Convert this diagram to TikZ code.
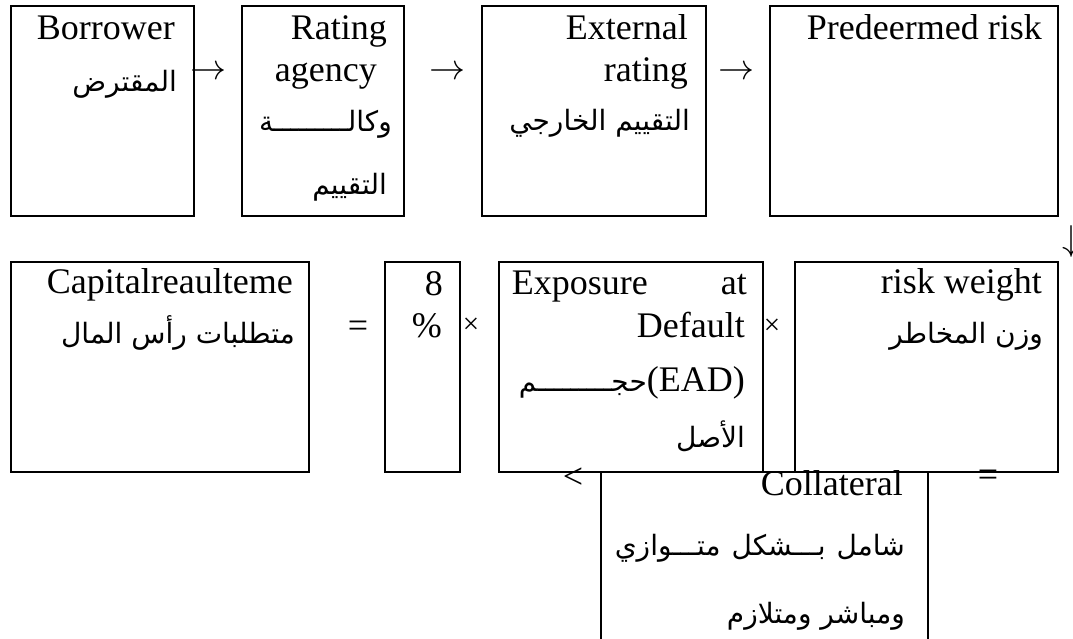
\documentclass[tikz,border=0pt]{standalone}
\usepackage{fix-cm}
\usepackage{fontspec}
\setmainfont{Liberation Serif}
\newfontfamily\arabicfont[Script=Arabic]{DejaVu Sans}
\TeXXeTstate=1
\begin{document}
\begin{tikzpicture}[x=1pt,y=-1pt,
  box/.style={draw,line width=1.8pt,inner sep=0pt,anchor=north west},
  en/.style={inner sep=0pt,anchor=base east,font=\fontsize{36}{40}\selectfont},
  ar/.style={inner sep=0pt,anchor=base east,font=\fontsize{28}{32}\arabicfont},
  sym/.style={inner sep=0pt,font=\fontsize{36}{40}\selectfont},
  smallsym/.style={inner sep=0pt,font=\fontsize{29}{32}\selectfont},
  arr/.style={inner sep=0pt,font=\fontsize{36}{40}\selectfont}]
\useasboundingbox (0,0) rectangle (1073,639);
\clip (0,0) rectangle (1073,639);
% row 1 boxes
\node[box,minimum width=183pt,minimum height=210pt] (borrower) at (10,5) {};
\node[box,minimum width=162pt,minimum height=210pt] (agency) at (241,5) {};
\node[box,minimum width=224pt,minimum height=210pt] (external) at (481,5) {};
\node[box,minimum width=288pt,minimum height=210pt] (predet) at (769,5) {};
% row 2 boxes
\node[box,minimum width=298pt,minimum height=210pt] (capital) at (10,261) {};
\node[box,minimum width=75pt,minimum height=210pt] (eight) at (384,261) {};
\node[box,minimum width=264pt,minimum height=210pt] (ead) at (498,261) {};
\node[box,minimum width=263pt,minimum height=210pt] (weight) at (794,261) {};
% row 3 box
\node[box,minimum width=327pt,minimum height=250pt] (collateral) at (600,471) {};
% texts row 1
\node[en] (t1a) at (175,40) {Borrower};
\node[ar] (t1b) at (177,92) {\beginR المقترض\endR};
\node[en] (t2a) at (387,40) {Rating};
\node[en] (t2b) at (377,82) {agency};
\node[ar] (t2c) at (392,132) {\beginR وكالـــــــــة\endR};
\node[ar] (t2d) at (387,195) {\beginR التقييم\endR};
\node[en] (t3a) at (688,40) {External};
\node[en] (t3b) at (688,82) {rating};
\node[ar] (t3c) at (690,131) {\beginR التقييم الخارجي\endR};
\node[en] (t4a) at (1042,40) {Predeermed risk};
% texts row 2
\node[en] (t5a) at (293,293) {Capitalreaulteme};
\node[ar] (t5b) at (295,343) {\beginR متطلبات رأس المال\endR};
\node[en] (t6a) at (443,295) {8};
\node[en] (t6b) at (442,337) {\%};
\node[en] (t7a) at (747,294) {\makebox[235pt][s]{Exposure at}};
\node[en] (t7b) at (745,337) {Default};
\node[en] (t7c) at (745,391) {{\fontsize{28}{32}\arabicfont\beginR حجـــــــــم\endR}(EAD)};
\node[ar] (t7d) at (745,447) {\beginR الأصل\endR};
\node[en] (t8a) at (1042,293) {risk weight};
\node[ar] (t8b) at (1043,343) {\beginR وزن المخاطر\endR};
% texts row 3
\node[en] (t9a) at (903,495) {Collateral};
\node[ar] (t9b) at (905,555) {\hbox to 290pt{\beginR شامل\hfill بـــشكل\hfill متـــوازي\endR}};
\node[ar] (t9c) at (905,623) {\beginR ومباشر ومتلازم\endR};
% symbols
\node[arr] (a1) at (208,73) {$\rightarrow$};
\node[arr] (a2) at (447,73) {$\rightarrow$};
\node[arr] (a3) at (736,73) {$\rightarrow$};
\node[arr] (a4) at (1071,241) {$\downarrow$};
\node[sym] (s1) at (358,329) {=};
\node[smallsym] (s2) at (471,326) {×};
\node[smallsym] (s3) at (772,327) {×};
\node[sym] (s4) at (573,478) {<};
\node[sym] (s5) at (988,478) {=};
\end{tikzpicture}
\end{document}
